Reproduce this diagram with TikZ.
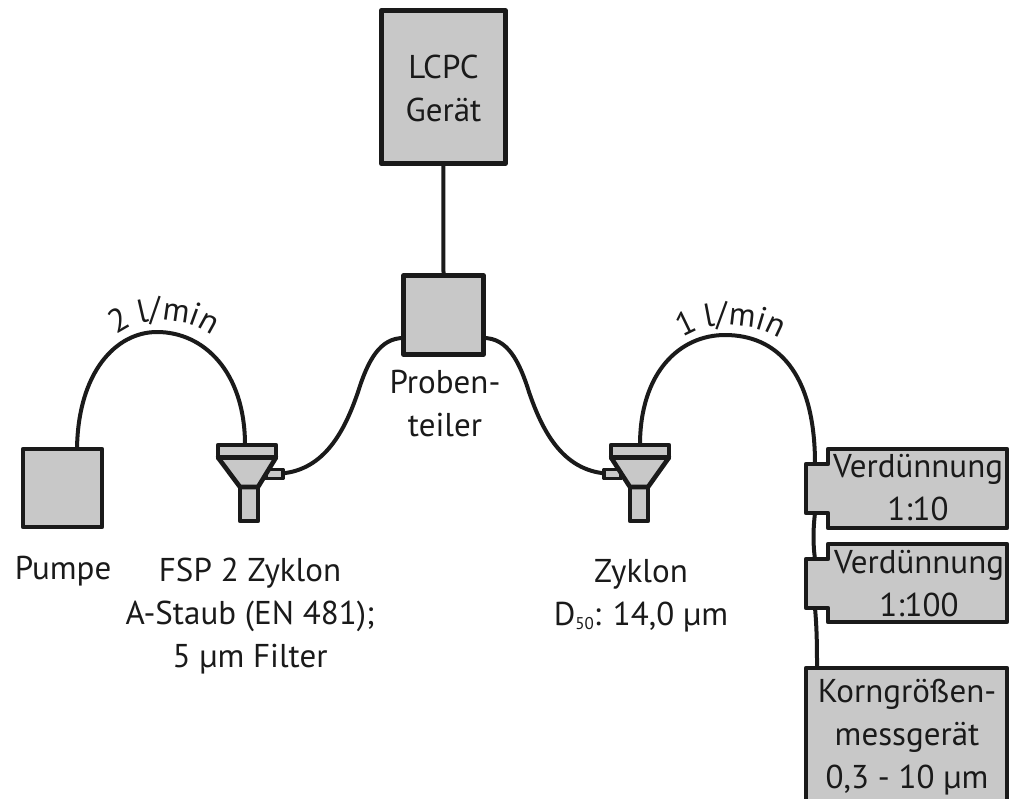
\documentclass[tikz,border=0pt]{standalone}
\usepackage{fontspec}
\setmainfont{PT Sans}
\usetikzlibrary{decorations.text}
\definecolor{boxgray}{HTML}{C8C8C8}
\definecolor{ink}{HTML}{1A1A1A}
\tikzset{
  part/.style={draw=ink,fill=boxgray,line width=4.6pt,line join=round},
  thinpart/.style={draw=ink,fill=boxgray,line width=3.6pt,line join=round},
  pipe/.style={draw=ink,line width=4pt},
  lab/.style={text=ink,font=\fontsize{33}{43}\selectfont,align=center,inner sep=0pt},
  boxnode/.style={part,inner sep=0pt,outer sep=0pt,anchor=north west},
}
\begin{document}
\begin{tikzpicture}[x=1pt,y=-1pt]
\useasboundingbox (0,0) rectangle (1011,798);
% boxes
\node[boxnode,minimum width=124pt,minimum height=153.4pt] (lcpc) at (381.3,10.3) {};
\node[lab] (tlcpc) at (443.5,88) {LCPC\\Gerät};
\node[boxnode,minimum width=80pt,minimum height=79pt] (teiler) at (403.5,275.5) {};
\node[boxnode,minimum width=79pt,minimum height=78pt] (pumpe) at (23,449) {};
% coordinates of the cyclones
\coordinate (c1top) at (245,445);
\coordinate (c1port) at (281,473.5);
\coordinate (c2top) at (640,445);
\coordinate (c2port) at (606,473.5);
\coordinate (v1in) at (815,464);
\coordinate (v1out) at (815,513);
\coordinate (v2in) at (815,559);
\coordinate (v2out) at (815,608);
\coordinate (kin) at (817,668);
\coordinate (tl) at (403.5,338);
\coordinate (tr) at (483.5,338);
\coordinate (ptop) at (77,449);
% pipes
\draw[pipe] (teiler.north) -- (lcpc.south);
\draw[pipe] (ptop) .. controls (78,372) and (116,332) .. (157,332) .. controls (204,332) and (245,372) .. (c1top);
\draw[pipe] (c2top) .. controls (640,372) and (680,335) .. (725,335) .. controls (775,335) and (815,370) .. (v1in);
\draw[pipe] (c1port) .. controls (325,470) and (345,430) .. (358,392) .. controls (368,360) and (380,338) .. (tl);
\draw[pipe] (tr) .. controls (507,338) and (519,360) .. (529,392) .. controls (542,430) and (562,470) .. (c2port);
\draw[pipe] (v1out) .. controls (813,530) and (813,545) .. (v2in);
\draw[pipe] (v2out) .. controls (817,630) and (817,650) .. (kin);
% cyclone 1
\draw[thinpart] (c1port) ++(-15,-4) rectangle ++(17,9);
\draw[part] (240,521) -- (258,521) -- (258,487) -- (240,487) -- cycle;
\draw[part] (218,457.5) -- (240,487) -- (258,487) -- (276,457.5) -- cycle;
\draw[part] (218,445) rectangle (276,457.5);
% cyclone 2
\draw[thinpart] (c2port) ++(15,-4) rectangle ++(-17,9);
\draw[part] (630,521) -- (648,521) -- (648,487) -- (630,487) -- cycle;
\draw[part] (611,457.5) -- (630,487) -- (648,487) -- (669,457.5) -- cycle;
\draw[part] (611,445) rectangle (669,457.5);
% dilution boxes
\draw[part] (828,449) -- (1007,449) -- (1007,528) -- (828,528) -- (828,513) -- (806,513) -- (806,464) -- (828,464) -- cycle;
\draw[part] (828,544) -- (1007,544) -- (1007,622) -- (828,622) -- (828,608) -- (806,608) -- (806,559) -- (828,559) -- cycle;
\node[boxnode,minimum width=201pt,minimum height=140pt] (korn) at (806,668) {};
% labels
\node[lab] (tv1) at (918,488) {Verdünnung\\1:10};
\node[lab] (tv2) at (919,584) {Verdünnung\\1:100};
\node[lab] (tk) at (907,737) {Korngrößen-\\messgerät\\0,3 - 10 µm};
\node[lab] (tp) at (445,404) {Proben-\\teiler};
\node[lab] (tpu) at (63,571) {Pumpe};
\node[lab] (tf) at (250,616) {FSP 2 Zyklon\\A-Staub (EN 481);\\5 µm Filter};
\node[lab] (tz) at (641,596) {Zyklon\\D{\fontsize{17}{17}\selectfont\raisebox{-4pt}{50}}: 14,0 µm};
\path[decorate,decoration={text along path,text align=center,text={|\fontsize{33}{40}\selectfont\color{ink}|2 l/min}}]
  (88,370) .. controls (103,339) and (131,320) .. (162,320) .. controls (196,320) and (226,339) .. (241,370);
\path[decorate,decoration={text along path,text align=center,text={|\fontsize{33}{40}\selectfont\color{ink}|1 l/min}}]
  (651,372) .. controls (668,340) and (698,325) .. (728,325) .. controls (763,325) and (793,340) .. (811,372);
\end{tikzpicture}
\end{document}
